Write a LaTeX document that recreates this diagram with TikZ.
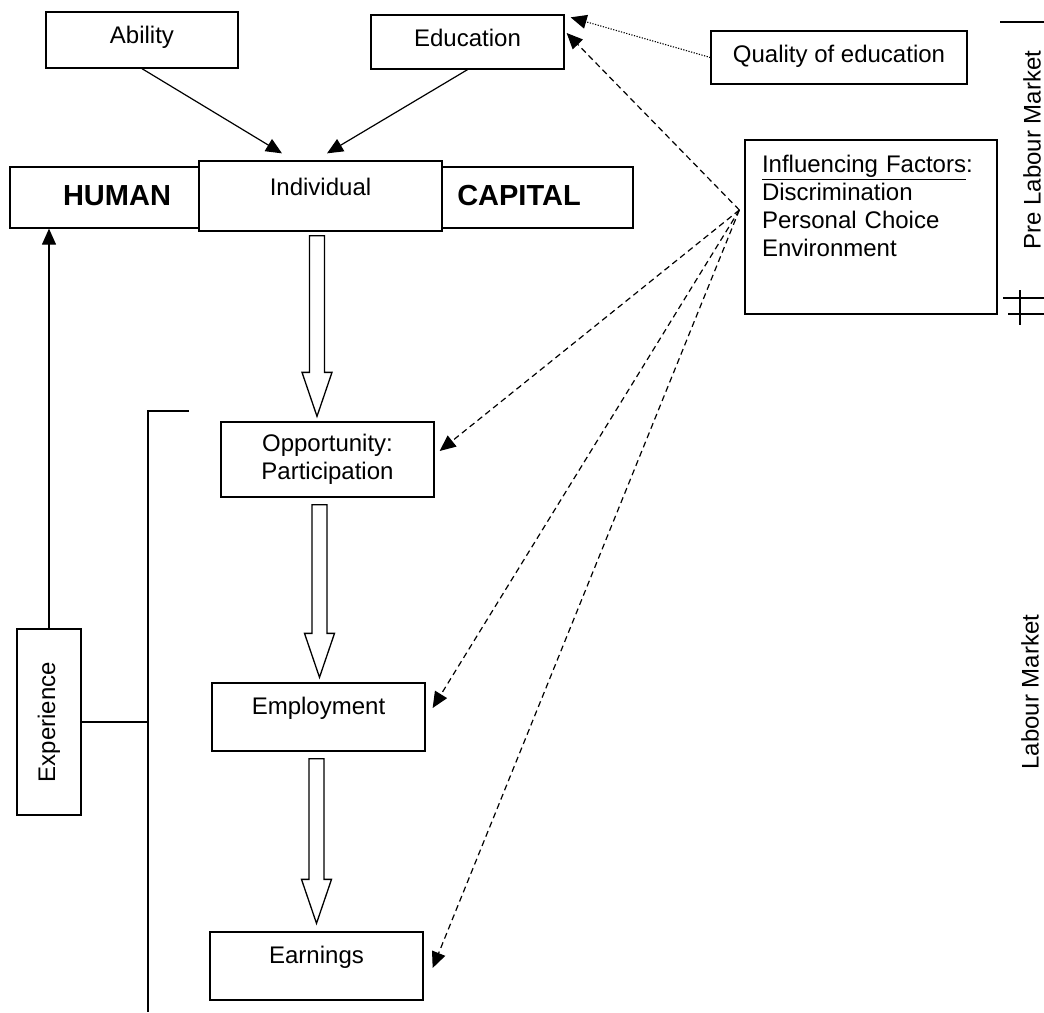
\documentclass[tikz,border=0pt]{standalone}
\usepackage{fontspec}
\setmainfont{Liberation Sans}
\usetikzlibrary{arrows.meta,calc}
% hollow block arrow from #1 (top) down to #2 (tip)
\newcommand{\hollowarrow}[2]{%
  \draw[line width=1.3pt, fill=white] let \p1=(#1), \p2=(#2) in
    (\x1-7.5pt,\y1) -- (\x1+7.5pt,\y1) -- (\x1+7.5pt,\y2+44pt) -- (\x1+15pt,\y2+44pt)
    -- (\x1,\y2) -- (\x1-15pt,\y2+44pt) -- (\x1-7.5pt,\y2+44pt) -- cycle;}
\begin{document}
\begin{tikzpicture}[x=1pt, y=-1pt,
    box/.style={draw, line width=1.3pt, fill=white, inner ysep=0pt, text height=17.2pt, text depth=#1,
      font=\fontsize{24}{28}\selectfont},
    box/.default=0pt,
    plainbox/.style={draw, line width=1.3pt, fill=white, font=\fontsize{24}{28}\selectfont},
    bigword/.style={font=\fontsize{29}{32}\selectfont\bfseries},
    sidetext/.style={rotate=90, font=\fontsize{24}{28}\selectfont},
    link/.style={line width=1.2pt, -{Triangle[length=16pt,width=14pt]}},
    dashlink/.style={link, dash pattern=on 6pt off 4pt},
    dotlink/.style={link, line width=1.1pt, dash pattern=on 1.2pt off 1.5pt}]
    \useasboundingbox (0,0) rectangle (1044,1012);
    % top row
    \node[box=10pt, minimum width=192pt, minimum height=56pt] (abil) at (142,40) {Ability};
    \node[box=8pt, minimum width=193pt, minimum height=54pt] (educ) at (467.5,42) {Education};
    \node[box=7pt, minimum width=256pt, minimum height=53pt] (qual) at (839,57.5) {Quality of education};
    % human capital
    \node[draw, line width=1.3pt, minimum width=623pt, minimum height=61pt] (hc) at (321.5,197.5) {};
    \node[bigword] (human) at (117,196) {HUMAN};
    \node[bigword] (capital) at (519,196) {CAPITAL};
    \node[box=18pt, minimum width=243pt, minimum height=70pt] (indiv) at (320.5,196) {Individual};
    \node[plainbox, minimum width=252pt, minimum height=174pt, align=left, text width=218pt, inner xsep=17pt]
        (infl) at (871,227) {\underline{Influencing Factors}:\\Discrimination\\Personal Choice\\Environment\\[14pt]\mbox{}};
    % labour market chain
    \node[plainbox, minimum width=213pt, minimum height=75pt, align=center] (opp) at (327.5,459.5) {Opportunity:\\Participation};
    \node[box=22pt, minimum width=213pt, minimum height=68pt] (emp) at (318.5,717) {Employment};
    \node[box=22pt, minimum width=213pt, minimum height=68pt] (earn) at (316.5,966) {Earnings};
    \node[plainbox, rotate=90, minimum width=186pt, minimum height=64pt] (exper) at (49,722) {Experience};
    % side labels
    \node[sidetext] (prelab) at (1032,150) {Pre Labour Market};
    \node[sidetext] (lab) at (1030,692) {Labour Market};
    \draw[line width=1.2pt] (1000,22) -- (1044,22);
    \draw[line width=1.2pt] (1003,298) -- (1044,298);
    \draw[line width=1.2pt] (1008,314) -- (1044,314);
    \draw[line width=1.2pt] (1020,290) -- (1020,325);
    % bracket
    \coordinate (brtop) at (148,411);
    \coordinate (brbot) at (148,1012);
    \draw[line width=1.2pt] (189,411) -- (brtop) -- (brbot);
    \draw[line width=1.2pt] (exper.south) -- (exper.south -| brtop);
    % connectors
    \draw[link] (abil.south) -- ($(indiv.north)+(-38.5,-7)$);
    \draw[link] (educ.south) -- ($(indiv.north)+(6.5,-7)$);
    \draw[link] (exper.east) -- (exper.east |- hc.south);
    \draw[dotlink] (qual.west) -- ($(educ.north east)+(6,3)$);
    \coordinate (src) at ($(infl.west)+(-5,-17)$);
    \draw[dashlink] (src) -- ($(educ.east)+(2,-9)$);
    \draw[dashlink] (src) -- ($(opp.east)+(5,-8.5)$);
    \draw[dashlink] (src) -- ($(emp.east)+(7,-9)$);
    \draw[dashlink] (src) -- ($(earn.east)+(9,2)$);
    % hollow arrows
    \hollowarrow{$(indiv.south)+(-3.5,4)$}{$(opp.north)+(-10.5,-5)$}
    \hollowarrow{$(opp.south)+(-8,7)$}{$(emp.north)+(0,-5)$}
    \hollowarrow{$(emp.south)+(-2,7)$}{$(earn.north)+(0,-8)$}
\end{tikzpicture}
\end{document}
